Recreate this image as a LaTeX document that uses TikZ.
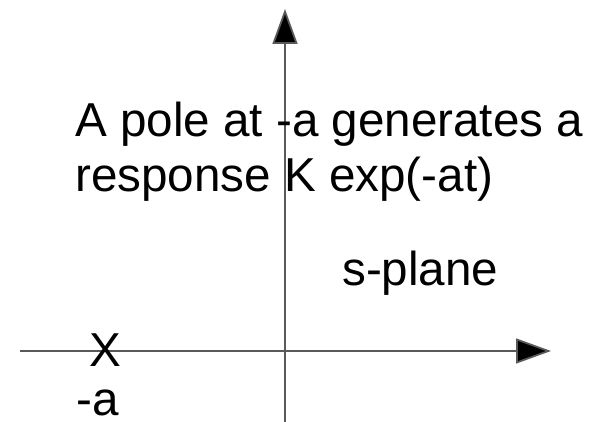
\documentclass[tikz,border=0pt]{standalone}
\usepackage{fontspec}
\setmainfont{Liberation Sans}
\usetikzlibrary{arrows.meta}

\begin{document}
\begin{tikzpicture}[x=1pt,y=-1pt,
axis/.style={line width=1.8pt, draw=black!65, -{Triangle[length=35pt,width=25pt,fill=black]}},
label/.style={inner sep=0pt, font=\fontsize{47.6}{55}\selectfont}]
\useasboundingbox (0,0) rectangle (597,422);
% axes
\coordinate (origin) at (285,351);
\coordinate (left) at (20,351);
\coordinate (right) at (551,351);
\coordinate (bottom) at (285,422);
\coordinate (top) at (285,9);
\draw[axis] (left) -- (right);
\draw[axis] (bottom) -- (top);
% pole and labels
\node[label, anchor=base] (pole) at (105,366) {X};
\node[label, anchor=base west] (polelabel) at (76,415) {-a};
\node[label, anchor=base west] (line1) at (75,137) {A pole at -a generates a};
\node[label, anchor=base west] (line2) at (75,192) {response K exp(-at)};
\node[label, anchor=base west] (plane) at (342,285) {s-plane};
\end{tikzpicture}
\end{document}
